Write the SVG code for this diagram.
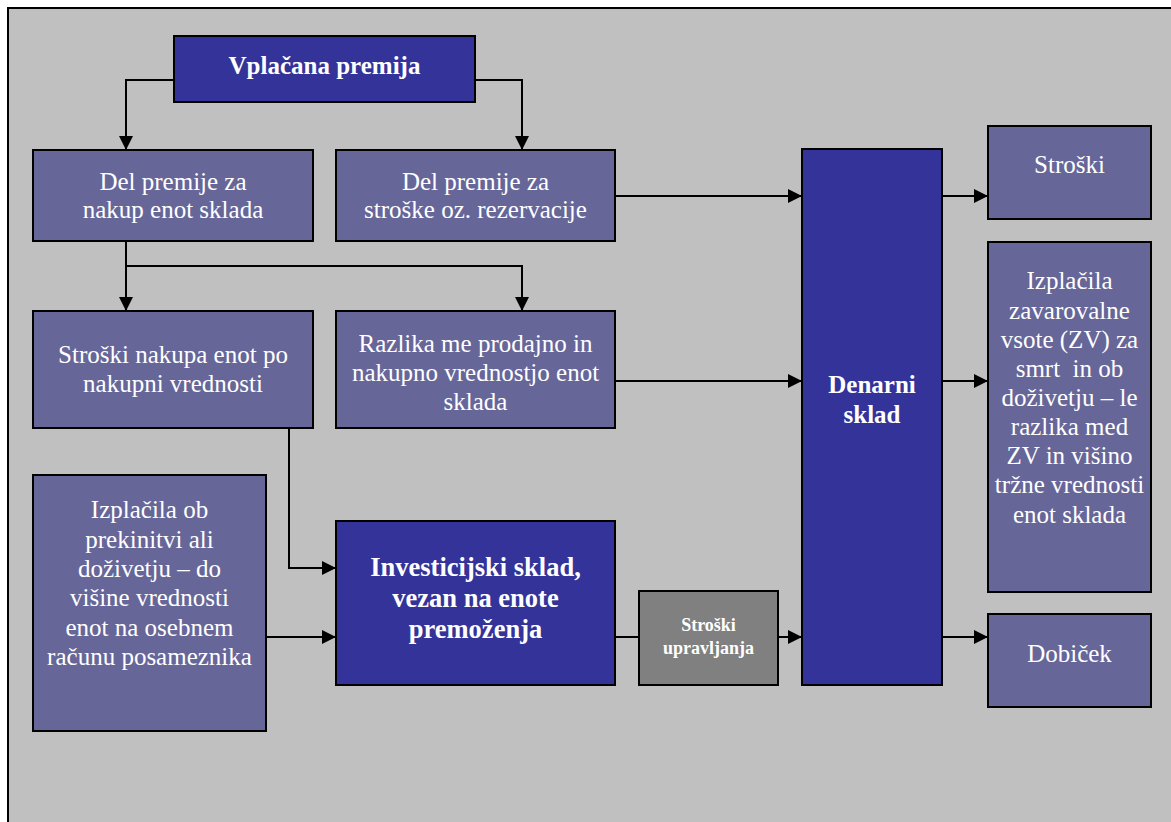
<svg xmlns="http://www.w3.org/2000/svg" width="1171" height="822" viewBox="0 0 1171 822">
<defs>
<style>
text{font-family:'Liberation Serif','DejaVu Serif',serif;fill:#fff;text-anchor:middle}
.dark{fill:#333399;stroke:#000;stroke-width:2}
.mid{fill:#666699;stroke:#000;stroke-width:2}
.gray{fill:#808080;stroke:#000;stroke-width:2}
.t{font-size:25px}
.b{font-size:25px;font-weight:bold}
.s{font-size:18px;font-weight:bold}
.c{fill:none;stroke:#000;stroke-width:2}
</style>
<marker id="ah" viewBox="0 0 14 14" refX="14" refY="7" markerWidth="14" markerHeight="14" markerUnits="userSpaceOnUse" orient="auto">
<path d="M0,0 L14,7 L0,14 z" fill="#000"/>
</marker>
</defs>
<rect x="0" y="0" width="1171" height="822" fill="#fff"/>
<rect x="8" y="8" width="1170" height="830" fill="#C0C0C0" stroke="#000" stroke-width="2"/>

<g id="connectors">
<path class="c" d="M174,80 H126 V150" marker-end="url(#ah)"/>
<path class="c" d="M475,80 H522 V150" marker-end="url(#ah)"/>
<path class="c" d="M615,196 H802" marker-end="url(#ah)"/>
<path class="c" d="M942,196 H988" marker-end="url(#ah)"/>
<path class="c" d="M126,241 V311" marker-end="url(#ah)"/>
<path class="c" d="M126,266 H522 V311" marker-end="url(#ah)"/>
<path class="c" d="M615,381 H802" marker-end="url(#ah)"/>
<path class="c" d="M942,381 H988" marker-end="url(#ah)"/>
<path class="c" d="M289,428 V568 H336" marker-end="url(#ah)"/>
<path class="c" d="M266,637 H336" marker-end="url(#ah)"/>
<path class="c" d="M615,637 H639"/>
<path class="c" d="M778,637 H802" marker-end="url(#ah)"/>
<path class="c" d="M942,637 H988" marker-end="url(#ah)"/>
</g>

<g id="vplacana">
<rect class="dark" x="174" y="36" width="301" height="66"/>
<text class="b" x="324.5" y="74">Vplačana premija</text>
</g>

<g id="del-nakup">
<rect class="mid" x="33" y="150" width="280" height="91"/>
<text class="t" x="173" y="190">Del premije za</text>
<text class="t" x="173" y="218">nakup enot sklada</text>
</g>

<g id="del-stroske">
<rect class="mid" x="336" y="150" width="279" height="91"/>
<text class="t" x="475.5" y="190">Del premije za</text>
<text class="t" x="475.5" y="218">stroške oz. rezervacije</text>
</g>

<g id="stroski-nakupa">
<rect class="mid" x="33" y="311" width="280" height="117"/>
<text class="t" x="173" y="363">Stroški nakupa enot po</text>
<text class="t" x="173" y="392">nakupni vrednosti</text>
</g>

<g id="razlika">
<rect class="mid" x="336" y="311" width="279" height="117"/>
<text class="t" x="475.5" y="352">Razlika me prodajno in</text>
<text class="t" x="475.5" y="381">nakupno vrednostjo enot</text>
<text class="t" x="475.5" y="410">sklada</text>
</g>

<g id="izplacila-ob">
<rect class="mid" x="33" y="475" width="233" height="256"/>
<text class="t" x="149.5" y="518">Izplačila ob</text>
<text class="t" x="149.5" y="548">prekinitvi ali</text>
<text class="t" x="149.5" y="577">doživetju – do</text>
<text class="t" x="149.5" y="606">višine vrednosti</text>
<text class="t" x="149.5" y="636">enot na osebnem</text>
<text class="t" x="149.5" y="665">računu posameznika</text>
</g>

<g id="investicijski">
<rect class="dark" x="336" y="521" width="279" height="164"/>
<text class="b" x="475.5" y="576" style="font-size:26.5px">Investicijski sklad,</text>
<text class="b" x="475.5" y="607" style="font-size:26.5px">vezan na enote</text>
<text class="b" x="475.5" y="638" style="font-size:26.5px">premoženja</text>
</g>

<g id="stroski-upravljanja">
<rect class="gray" x="639" y="591" width="139" height="94"/>
<text class="s" x="708.5" y="631">Stroški</text>
<text class="s" x="708.5" y="654">upravljanja</text>
</g>

<g id="denarni">
<rect class="dark" x="802" y="149" width="140" height="536"/>
<text class="b" x="872" y="393">Denarni</text>
<text class="b" x="872" y="423">sklad</text>
</g>

<g id="stroski">
<rect class="mid" x="988" y="126" width="163" height="93"/>
<text class="t" x="1069.5" y="173">Stroški</text>
</g>

<g id="izplacila-zv">
<rect class="mid" x="988" y="242" width="163" height="350"/>
<text class="t" x="1069.5" y="289">Izplačila</text>
<text class="t" x="1069.5" y="319">zavarovalne</text>
<text class="t" x="1069.5" y="348">vsote (ZV) za</text>
<text class="t" x="1069.5" y="377" xml:space="preserve">smrt  in ob</text>
<text class="t" x="1069.5" y="406">doživetju – le</text>
<text class="t" x="1069.5" y="435">razlika med</text>
<text class="t" x="1069.5" y="464">ZV in višino</text>
<text class="t" x="1069.5" y="493">tržne vrednosti</text>
<text class="t" x="1069.5" y="523">enot sklada</text>
</g>

<g id="dobicek">
<rect class="mid" x="988" y="614" width="163" height="93"/>
<text class="t" x="1069.5" y="662">Dobiček</text>
</g>
</svg>
